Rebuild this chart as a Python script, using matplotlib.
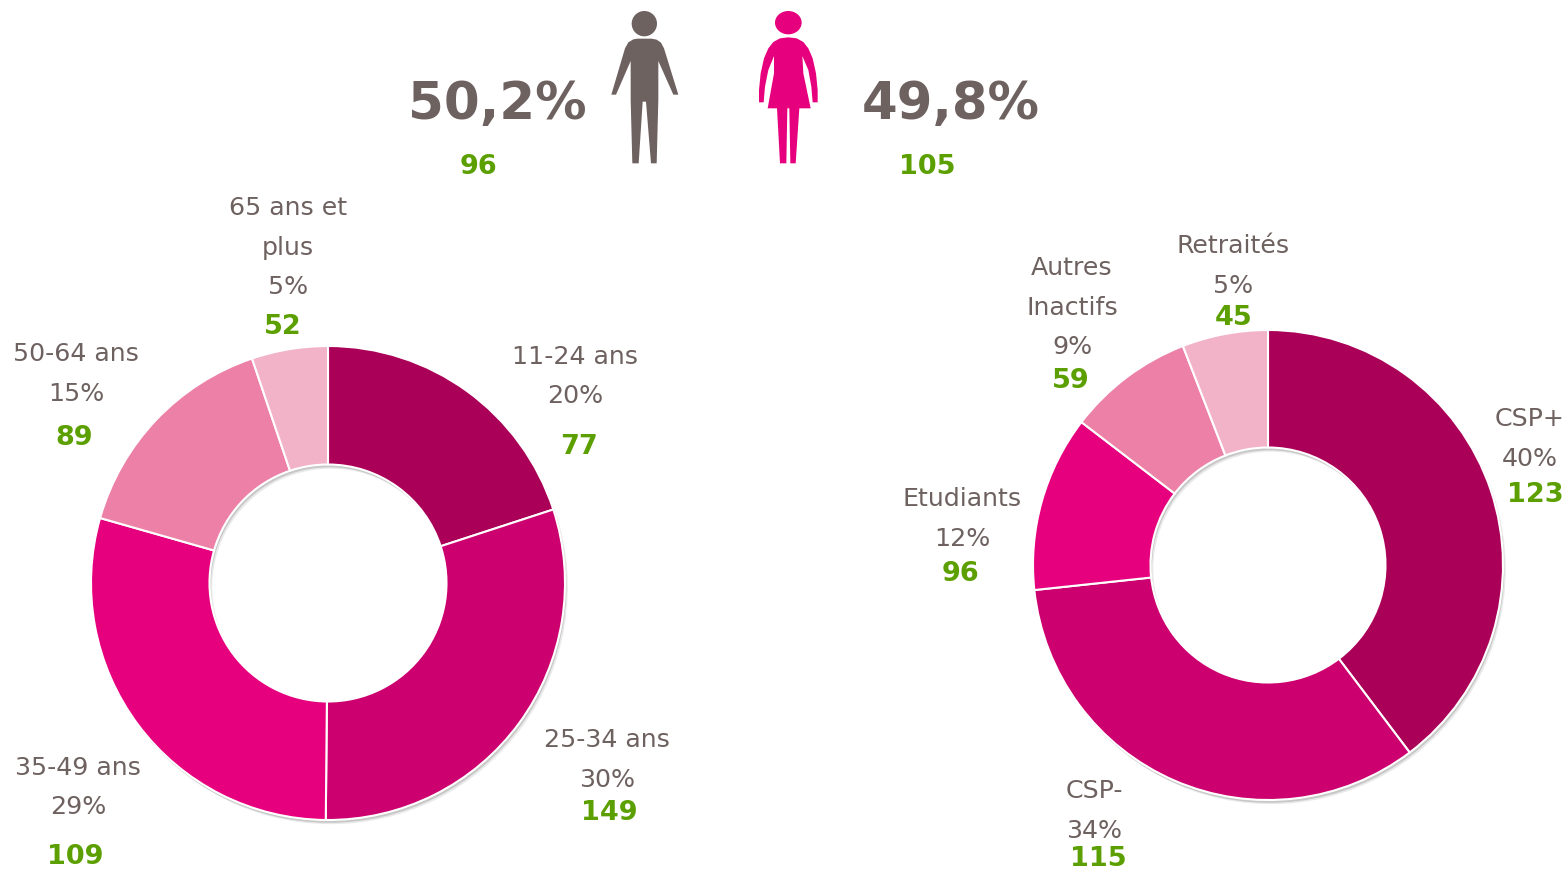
## two donuts (age and socio-professional category) with the gender split on top

import matplotlib
matplotlib.use('Agg')
import matplotlib.pyplot as plt
import matplotlib.patheffects as pe
from matplotlib.patches import Circle, Ellipse, Polygon

W, H = 1568, 869

age_names = ['11-24 ans', '25-34 ans', '35-49 ans', '50-64 ans', '65 ans et\nplus']
age_shares = [20.0, 30.2, 29.3, 15.4, 5.2]
age_pct = ['20%', '30%', '29%', '15%', '5%']
age_counts = ['77', '149', '109', '89', '52']

csp_names = ['CSP+', 'CSP-', 'Etudiants', 'Autres\nInactifs', 'Retraités']
csp_shares = [39.7, 33.6, 12.1, 8.7, 5.9]
csp_pct = ['40%', '34%', '12%', '9%', '5%']
csp_counts = ['123', '115', '96', '59', '45']

gender_pct = ['50,2%', '49,8%']
gender_counts = ['96', '105']

pinks = ['#AB0057', '#CC006E', '#E6007E', '#EC80A6', '#F2B3C8']
grey = '#6E6260'
green = '#5B9F00'
magenta = '#E6007E'

LABEL_SIZE = 18.2
COUNT_SIZE = 19.5

plt.rcParams['font.family'] = ['DejaVu Sans']
fig = plt.figure(figsize=(W / 100, H / 100), dpi=100)

# overlay in pixel coordinates for texts and the two icons
over = fig.add_axes([0, 0, 1, 1], zorder=5)
over.set_xlim(0, W)
over.set_ylim(H, 0)
over.axis('off')
over.patch.set_alpha(0)


def donut(shares, cx, cy, r, hole):
	ax = fig.add_axes([(cx - r) / W, 1 - (cy + r) / H, 2 * r / W, 2 * r / H])
	# first pass only gives the soft shadow, so that it never falls on another slice
	under, _ = ax.pie(shares, colors=pinks, startangle=90, counterclock=False, radius=1,
		wedgeprops=dict(width=1 - hole, edgecolor='none'))
	for w in under:
		w.set_clip_on(False)
		w.set_path_effects([
			pe.SimplePatchShadow(offset=(2, -3), shadow_rgbFace='#888888', alpha=0.18),
			pe.SimplePatchShadow(offset=(1, -2), shadow_rgbFace='#888888', alpha=0.35)])
	wedges, _ = ax.pie(shares, colors=pinks, startangle=90, counterclock=False, radius=1,
		wedgeprops=dict(width=1 - hole, edgecolor='white', linewidth=1.5))
	ax.set_xlim(-1, 1)
	ax.set_ylim(-1, 1)
	for w in wedges:
		w.set_clip_on(False)
	return ax


def label(px, cx, name, name_y, pct, pct_y, count, count_y):
	over.text(px, name_y + 1, name, color=grey, fontsize=LABEL_SIZE, ha='center', va='center', linespacing=1.85)
	over.text(px, pct_y + 1, pct, color=grey, fontsize=LABEL_SIZE, ha='center', va='center')
	over.text(cx, count_y + 2, count, color=green, fontsize=COUNT_SIZE, fontweight='bold', ha='center', va='center')


donut(age_shares, 328, 583, 237, 0.5)
donut(csp_shares, 1268, 565, 235, 0.5)

# x of name/pct, x of count, then y of name, pct, count
age_pos = [(575, 579, 356, 395, 445), (607, 609, 739, 779, 811), (78, 75, 767, 806, 855),
	(76, 74, 353, 393, 436), (288, 283, 227, 286, 325)]
csp_pos = [(1530, 1535, 418, 458, 493), (1094, 1098, 790, 830, 857), (962, 961, 498, 538, 572),
	(1072, 1071, 287, 346, 379), (1233, 1234, 245, 285, 316)]

for names, pct, counts, pos in [(age_names, age_pct, age_counts, age_pos), (csp_names, csp_pct, csp_counts, csp_pos)]:
	for i in range(len(names)):
		px, cx, ny, py, cy = pos[i]
		label(px, cx, names[i], ny, pct[i], py, counts[i], cy)

# gender header
over.text(497, 105, gender_pct[0], color=grey, fontsize=37, fontweight='bold', ha='center', va='center')
over.text(951, 105, gender_pct[1], color=grey, fontsize=37, fontweight='bold', ha='center', va='center')
over.text(479, 167, gender_counts[0], color=green, fontsize=COUNT_SIZE, fontweight='bold', ha='center', va='center')
over.text(927, 167, gender_counts[1], color=green, fontsize=COUNT_SIZE, fontweight='bold', ha='center', va='center')

# man icon, traced in zoomed crop coordinates
man = [(130, 118), (142, 116), (185, 116), (200, 119), (213, 128), (222, 145), (265, 284), (250, 284),
	(205, 183), (205, 300), (200, 490), (183, 490), (168, 305), (158, 305), (146, 490), (127, 490),
	(122, 300), (122, 183), (78, 284), (64, 284), (105, 145), (115, 127)]
woman = [(595, 112), (620, 115), (640, 126), (655, 145), (668, 175), (678, 220), (683, 270), (683, 307),
	(668, 307), (664, 260), (655, 210), (637, 168), (640, 220), (662, 325), (628, 325), (617, 490),
	(601, 490), (598, 325), (592, 325), (589, 490), (570, 490), (561, 325), (533, 325), (552, 220),
	(552, 168), (535, 210), (525, 260), (521, 307), (507, 307), (507, 270), (512, 220), (522, 175),
	(535, 145), (550, 126), (570, 115)]


def crop(p):
	return (590 + p[0] / 3, p[1] / 3)


over.add_patch(Polygon([crop(p) for p in man], closed=True, fc=grey, ec='none'))
over.add_patch(Circle(crop((163, 71)), 38 / 3, fc=grey, ec='none'))
over.add_patch(Polygon([crop(p) for p in woman], closed=True, fc=magenta, ec='none'))
over.add_patch(Ellipse(crop((595, 68)), 80 / 3, 70 / 3, fc=magenta, ec='none'))

fig.savefig('out.png', dpi=100, facecolor='white')
